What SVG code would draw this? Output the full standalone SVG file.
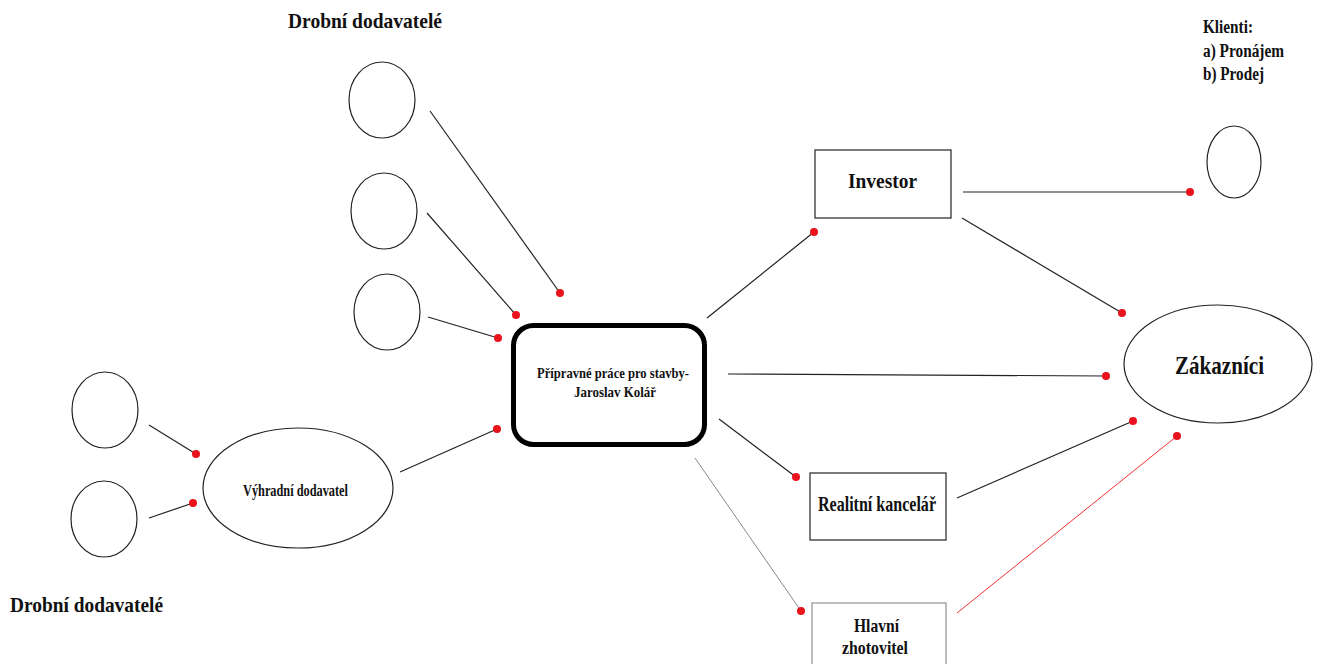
<svg xmlns="http://www.w3.org/2000/svg" width="1322" height="664" viewBox="0 0 1322 664">
<style>
text{font-family:"Liberation Serif","Times New Roman",serif;font-weight:bold;fill:#111;}
.c{fill:#fff;stroke:#222;stroke-width:1.2;}
.b{fill:#fff;stroke:#333;stroke-width:1.3;}
.ln{stroke:#222;stroke-width:1.2;fill:none;}
.dot{fill:#e8131c;}
</style>
<rect width="1322" height="664" fill="#fff"/>
<text x="288" y="28" font-size="21" textLength="154" lengthAdjust="spacingAndGlyphs">Drobní dodavatelé</text>
<text x="10" y="612" font-size="21" textLength="153" lengthAdjust="spacingAndGlyphs">Drobní dodavatelé</text>
<text x="1203" y="33" font-size="18" textLength="50" lengthAdjust="spacingAndGlyphs">Klienti:</text>
<text x="1203" y="57" font-size="18" textLength="81" lengthAdjust="spacingAndGlyphs">a) Pronájem</text>
<text x="1203" y="80" font-size="18" textLength="61" lengthAdjust="spacingAndGlyphs">b) Prodej</text>
<g id="connectors">
<line class="ln" x1="430" y1="111" x2="560" y2="293"/><circle class="dot" cx="560" cy="293" r="4"/>
<line class="ln" x1="427" y1="213" x2="516" y2="315"/><circle class="dot" cx="516" cy="315" r="4"/>
<line class="ln" x1="428" y1="317" x2="498" y2="338"/><circle class="dot" cx="498" cy="338" r="4"/>
<line class="ln" x1="149" y1="425" x2="196" y2="454"/><circle class="dot" cx="196" cy="454" r="4"/>
<line class="ln" x1="149" y1="518" x2="193" y2="503"/><circle class="dot" cx="193" cy="503" r="4"/>
<line class="ln" x1="400" y1="472" x2="497" y2="429"/><circle class="dot" cx="497" cy="429" r="4"/>
<line class="ln" x1="707" y1="318" x2="814" y2="232"/><circle class="dot" cx="814" cy="232" r="4"/>
<line class="ln" x1="728" y1="374" x2="1106" y2="376"/><circle class="dot" cx="1106" cy="376" r="4"/>
<line class="ln" x1="719" y1="419" x2="796" y2="477"/><circle class="dot" cx="796" cy="477" r="4"/>
<line x1="695" y1="458" x2="801" y2="611" stroke="#888" stroke-width="1"/><circle class="dot" cx="801" cy="611" r="4"/>
<line class="ln" x1="963" y1="192" x2="1190" y2="192"/><circle class="dot" cx="1190" cy="192" r="4"/>
<line class="ln" x1="962" y1="218" x2="1122" y2="313"/><circle class="dot" cx="1122" cy="313" r="4"/>
<line class="ln" x1="957" y1="498" x2="1133" y2="421"/><circle class="dot" cx="1133" cy="421" r="4"/>
<line x1="957" y1="613" x2="1177" y2="436" stroke="#f03030" stroke-width="1"/><circle class="dot" cx="1177" cy="436" r="4"/>
</g>
<g id="s1"><ellipse class="c" cx="382" cy="100" rx="33" ry="38"/></g>
<g id="s2"><ellipse class="c" cx="384" cy="211" rx="33" ry="38"/></g>
<g id="s3"><ellipse class="c" cx="387" cy="312" rx="33" ry="38"/></g>
<g id="s4"><ellipse class="c" cx="105" cy="410" rx="33" ry="38"/></g>
<g id="s5"><ellipse class="c" cx="104" cy="519" rx="33" ry="38"/></g>
<g id="klient"><ellipse class="c" cx="1234" cy="162" rx="27" ry="36"/></g>
<g id="vyhradni"><ellipse class="c" cx="298" cy="488" rx="95" ry="60"/>
<text x="243" y="496" font-size="16" textLength="105" lengthAdjust="spacingAndGlyphs">Výhradní dodavatel</text></g>
<g id="center"><rect x="513.5" y="325.5" width="191" height="119" rx="20" fill="#fff" stroke="#000" stroke-width="5"/>
<text x="537" y="378" font-size="15" textLength="152" lengthAdjust="spacingAndGlyphs">Přípravné práce pro stavby-</text>
<text x="574" y="397" font-size="15" textLength="82" lengthAdjust="spacingAndGlyphs">Jaroslav Kolář</text></g>
<g id="investor"><rect class="b" x="815" y="150" width="136" height="68"/>
<text x="848" y="188" font-size="22" textLength="69" lengthAdjust="spacingAndGlyphs">Investor</text></g>
<g id="realitni"><rect class="b" x="810" y="473" width="136" height="67"/>
<text x="818" y="511" font-size="21" textLength="118" lengthAdjust="spacingAndGlyphs">Realitní kancelář</text></g>
<g id="hlavni"><rect x="812" y="603" width="134" height="70" fill="#fff" stroke="#999" stroke-width="1.3"/>
<text x="854" y="632" font-size="19" textLength="45" lengthAdjust="spacingAndGlyphs">Hlavní</text>
<text x="842" y="654" font-size="19" textLength="66" lengthAdjust="spacingAndGlyphs">zhotovitel</text></g>
<g id="zakaznici"><ellipse class="c" cx="1218" cy="364" rx="94" ry="59"/>
<text x="1175" y="374" font-size="26" textLength="89" lengthAdjust="spacingAndGlyphs">Zákazníci</text></g>
</svg>
